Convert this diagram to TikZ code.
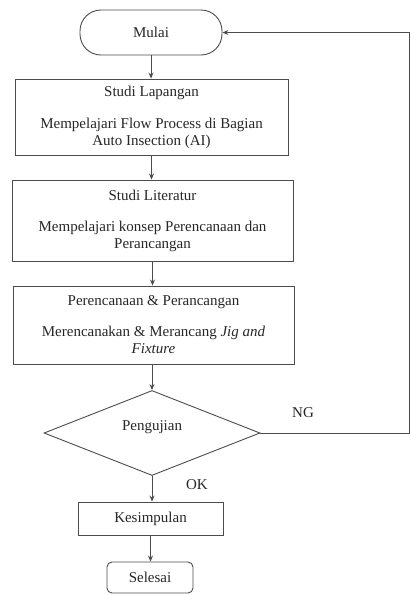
\documentclass[tikz,border=0pt]{standalone}
\usepackage{fontspec}
\setmainfont{Liberation Serif}
\usetikzlibrary{shapes.geometric,arrows.meta}
\begin{document}
\begin{tikzpicture}[x=1pt,y=-1pt,
  every node/.style={text=black!85, font=\fontsize{15}{17}\selectfont},
  boxn/.style={draw=black!70, line width=0.9pt, rectangle, inner sep=0pt, align=center},
  conn/.style={draw=black!70, line width=0.9pt},
  arr/.style={conn, -{Stealth[length=6pt,width=5pt]}}]
\useasboundingbox (0,0) rectangle (411,595);
\node[boxn, rounded corners=21pt, minimum width=142pt, minimum height=45pt] (mulai) at (151,32.5) {Mulai};
\node[boxn, minimum width=273pt, minimum height=76pt] (lap) at (151.5,117) {Studi Lapangan\\[15pt]Mempelajari Flow Process di Bagian\\Auto Insection (AI)};
\node[boxn, minimum width=281pt, minimum height=81pt] (lit) at (152.5,220.5) {Studi Literatur\\[14pt]Mempelajari konsep Perencanaan dan\\Perancangan};
\node[boxn, minimum width=281pt, minimum height=78pt] (per) at (153.5,325) {Perencanaan \& Perancangan\\[14pt]Merencanakan \& Merancang \textit{Jig and}\\\textit{Fixture}};
\node[boxn, diamond, minimum width=216pt, minimum height=85pt] (uji) at (152,433) {};
\node (ujit) at (152,427) {Pengujian};
\node[boxn, minimum width=145pt, minimum height=33pt] (kes) at (150.5,518.5) {Kesimpulan};
\node[boxn, rounded corners=5pt, minimum width=86pt, minimum height=31pt] (sel) at (150,577.5) {Selesai};
\node (ng) at (303,413) {NG};
\node (ok) at (197,485) {OK};
\coordinate (c1) at (409.5,433);
\coordinate (c2) at (409.5,32.5);
\draw[arr] (mulai.south) -- (mulai.south |- lap.north);
\draw[arr] (lap.south) -- (lap.south |- lit.north);
\draw[arr] (lit.south) -- (lit.south |- per.north);
\draw[arr] (uji.north |- per.south) -- (uji.north);
\draw[arr] (uji.south) -- (uji.south |- kes.north);
\draw[arr] (kes.south) -- (kes.south |- sel.north);
\draw[conn] (uji.east) -- (c1) -- (c2);
\draw[arr] (c2) -- (mulai.east);
\end{tikzpicture}
\end{document}
